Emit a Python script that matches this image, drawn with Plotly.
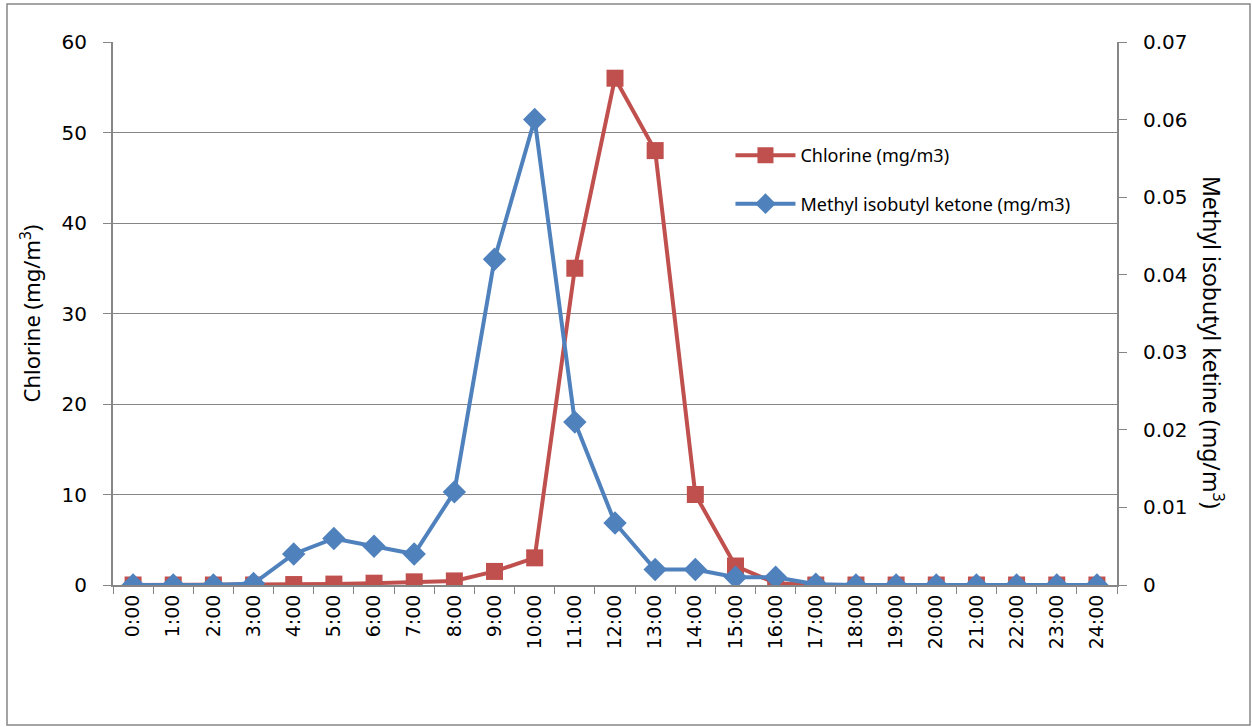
import plotly.graph_objects as go

hours = [f"{h}:00" for h in range(25)]
chlorine = [0, 0, 0, 0, 0.05, 0.1, 0.2, 0.35, 0.45, 1.5, 3.0, 35, 56, 48, 10, 2.1, 0.2,
            0, 0, 0, 0, 0, 0, 0, 0]
mibk = [0, 0, 0, 0.0002, 0.004, 0.006, 0.005, 0.004, 0.012, 0.042, 0.060, 0.021, 0.008,
        0.002, 0.002, 0.001, 0.001, 0.0001, 0, 0, 0, 0, 0, 0, 0]

RED = "#C0504D"
BLUE = "#4F81BD"
GRAY = "#868686"
FONT = "Noto Sans"
TICKFONT = "DejaVu Sans"

fig = go.Figure()
fig.add_trace(go.Scatter(x=hours, y=chlorine, name="Chlorine (mg/m3)", mode="lines+markers",
                         line=dict(color=RED, width=4), legendgroup="a",
                         marker=dict(symbol="square", size=17, color=RED)))
fig.add_trace(go.Scatter(x=hours, y=mibk, name="Methyl isobutyl ketone (mg/m3)", mode="lines+markers",
                         line=dict(color=BLUE, width=4), legendgroup="b",
                         marker=dict(symbol="diamond", size=18, color=BLUE), yaxis="y2"))

fig.update_layout(
    width=1252, height=727,
    margin=dict(l=113, r=135, t=42, b=142),
    paper_bgcolor="white", plot_bgcolor="white",
    font=dict(family=FONT, color="black"),
    xaxis=dict(type="category", range=[-0.5, 24.5], showgrid=False, showline=True,
               linecolor=GRAY, linewidth=2, ticks="outside", tickson="boundaries",
               tickcolor=GRAY, ticklen=7, tickwidth=1, tickangle=-90,
               tickfont=dict(size=19, family=TICKFONT)),
    yaxis=dict(range=[0, 60], dtick=10, showgrid=True, gridcolor=GRAY, gridwidth=1,
               showline=True, linecolor=GRAY, linewidth=2, ticks="outside", tickcolor=GRAY,
               ticklen=8, zeroline=False, tickfont=dict(size=20, family=TICKFONT),
               ticklabelstandoff=12,
               title=dict(text="Chlorine (mg/m<sup>3</sup>)", font=dict(size=22), standoff=15)),
    yaxis2=dict(range=[0, 0.07], dtick=0.01, overlaying="y", side="right", showgrid=False,
                showline=True, linecolor=GRAY, linewidth=2, ticks="outside", tickcolor=GRAY,
                ticklen=8, zeroline=False, tickfont=dict(size=20, family=TICKFONT),
                ticklabelstandoff=12, tickformat="~g"),
    legend=dict(x=0.615, y=0.825, xanchor="left", yanchor="top", bgcolor="rgba(0,0,0,0)",
                font=dict(size=18, family=FONT), tracegroupgap=22, itemwidth=60),
    showlegend=True,
)

fig.add_annotation(text="Methyl isobutyl ketine (mg/m<sup>3</sup>)", xref="paper", yref="paper",
                   x=(1213 - 113) / 1004, y=(585 - 342) / 543, textangle=90, showarrow=False,
                   font=dict(size=23, family=FONT), xanchor="center", yanchor="middle")

fig.add_shape(type="rect", xref="paper", yref="paper",
              x0=(7 - 113) / 1004, x1=(1250 - 113) / 1004,
              y0=(585 - 725) / 543, y1=(585 - 4) / 543,
              line=dict(color=GRAY, width=1.5), layer="below")

fig.write_html("out.html", config={"displayModeBar": False},
               post_script="document.body.style.margin='0';document.body.style.overflow='hidden';")
